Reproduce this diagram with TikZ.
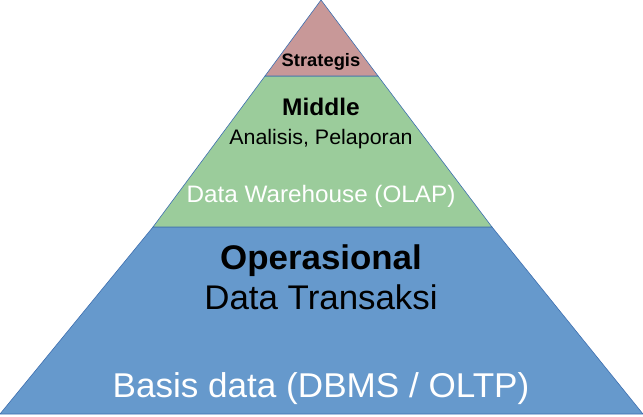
\documentclass[tikz,border=0pt]{standalone}
\usepackage{fontspec}
\setmainfont{Liberation Sans}[FakeStretch=1.02]
\definecolor{topred}{RGB}{200,152,152}
\definecolor{midgreen}{RGB}{155,204,155}
\definecolor{lowblue}{RGB}{102,153,204}
\definecolor{edgeblue}{RGB}{62,111,176}
\tikzset{
  layer/.style={draw=edgeblue, line width=0.6pt},
  label/.style={anchor=base, inner sep=0pt},
}
\newcommand{\fs}[1]{\fontsize{#1}{#1}\selectfont}

\begin{document}
\begin{tikzpicture}[x=1pt, y=1pt]
		%%%%% START %%%%%
		\useasboundingbox (0, 0) rectangle (643, 416);
		
		% lapisan bawah
		\draw[layer, fill=lowblue] (0, 2) -- (643, 2) -- (492, 189) -- (153, 189) -- cycle;
		% lapisan tengah
		\draw[layer, fill=midgreen] (153, 189) -- (492, 189) -- (378, 340) -- (265, 340) -- cycle;
		% puncak
		\draw[layer, fill=topred] (265, 340) -- (378, 340) -- (321, 416) -- cycle;
		
		\node[label] (strategis) at (321, 349) {\fs{18}\bfseries Strategis};
		
		\node[label] (middle) at (321, 301) {\fs{24}\bfseries Middle};
		\node[label] (analisis) at (321, 272) {\fs{21}Analisis, Pelaporan};
		\node[label, text=white] (dwh) at (321, 214) {\fs{23.8}Data Warehouse (OLAP)};
		
		\node[label] (operasional) at (321, 147) {\fs{34.2}\bfseries Operasional};
		\node[label] (transaksi) at (321, 107) {\fs{34.2}Data Transaksi};
		\node[label, text=white] (basisdata) at (321, 19) {\fs{34.4}Basis data (DBMS / OLTP)};
		
		%%%%% END %%%%%
	\end{tikzpicture}
\end{document}
